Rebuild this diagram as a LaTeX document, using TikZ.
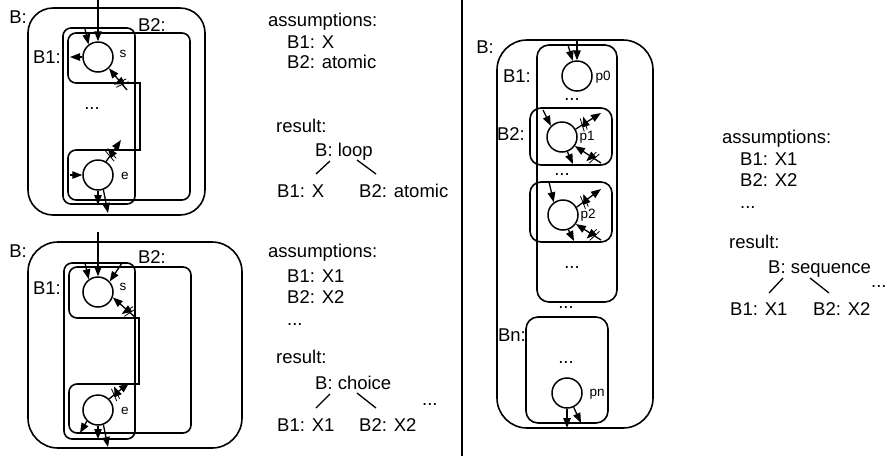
\documentclass[tikz,border=0pt]{standalone}
\usepackage{fontspec}
\setmainfont{Liberation Sans}
\usetikzlibrary{arrows.meta,decorations.markings}
\begin{document}
\begin{tikzpicture}[x=1pt,y=-1pt,
  boxline/.style={draw, line width=1.6pt},
  box/.style={boxline, rounded corners=8pt},
  place/.style={circle, draw, line width=1.5pt, minimum size=30pt, inner sep=0pt},
  arr/.style={-{Triangle[length=10pt,width=7.5pt]}, line width=1.3pt},
  strike/.style={postaction={decorate}, decoration={markings, mark=at position 0.3 with {\draw[line width=0.8pt] (-3pt,-6.5pt) -- (0.5pt,6.5pt) (0.5pt,-6.5pt) -- (4pt,6.5pt);}}},
  txt/.style={anchor=base west, inner sep=0pt, font=\fontsize{18.5}{22}\selectfont},
  lbl/.style={inner sep=0pt, font=\fontsize{18.5}{22}\selectfont},
  small/.style={inner sep=0pt, font=\fontsize{13.5}{15}\selectfont},
  tree/.style={line width=1.3pt}
]
\useasboundingbox (0,0) rectangle (888,456);

% separator
\coordinate (sepT) at (462,0);
\coordinate (sepB) at (462,456);
\draw[line width=1.2pt] (sepT) -- (sepB);

% ================= top-left: loop =================
\draw[boxline, rounded corners=25pt] (28,8) rectangle (205,215);
\draw[box] (63,28) rectangle (135,204);
\draw[box] (140,83) -- (68,83) -- (68,33) -- (190,33) -- (190,200) -- (68,200) -- (68,150) -- (140,150);
\draw[boxline, line cap=rect] (140,150) -- (140,83);
\node[lbl] (tlB) at (18,17) {B:};
\node[lbl] (tlB1) at (47,57) {B1:};
\node[lbl] (tlB2) at (152,25) {B2:};
\node[lbl] (tldots) at (92,109) {...};
\node[place] (s1) at (98,57) {};
\node[place] (e1) at (98,175) {};
\node[small] (s1l) at (123,54) {s};
\node[small] (e1l) at (125,176) {e};
\coordinate (a1) at (98,0);
\coordinate (a2) at (85,29);
\coordinate (a3) at (70,57);
\coordinate (a4) at (127,90);
\coordinate (a5) at (70,175);
\coordinate (a6) at (121,140);
\coordinate (a7) at (98,205);
\coordinate (a8) at (108,213);
\draw[arr] (a1) -- (s1.north);
\draw[arr] (a2) -- (s1.127);
\draw[arr] (s1.west) -- (a3);
\draw[arr,strike] (a4) -- (s1.-46);
\draw[arr] (a5) -- (e1.west);
\draw[arr,strike] (e1.59) -- (a6);
\draw[arr] (e1.south) -- (a7);
\draw[arr] (e1.-70) -- (a8);

% ================= bottom-left: choice =================
\draw[boxline, rounded corners=30pt] (28,242) rectangle (242,448);
\draw[box] (64,263) rectangle (135,439);
\draw[box] (139,318) -- (69,318) -- (69,267) -- (191,267) -- (191,433) -- (69,433) -- (69,384) -- (139,384);
\draw[boxline, line cap=rect] (139,384) -- (139,318);
\node[lbl] (blB) at (18,251) {B:};
\node[lbl] (blB1) at (47,288) {B1:};
\node[lbl] (blB2) at (152,257) {B2:};
\node[place] (s2) at (98,292) {};
\node[place] (e2) at (98,410) {};
\node[small] (s2l) at (123,287) {s};
\node[small] (e2l) at (125,411) {e};
\coordinate (b1) at (98,232);
\coordinate (b2) at (85,263);
\coordinate (b3) at (122,263);
\coordinate (b4) at (136,318);
\coordinate (b5) at (129,383);
\coordinate (b6) at (80,433);
\coordinate (b7) at (98,439);
\coordinate (b8) at (108,447);
\draw[arr] (b1) -- (s2.north);
\draw[arr] (b2) -- (s2.126);
\draw[arr] (b3) -- (s2.42);
\draw[arr,strike] (b4) -- (s2.-20);
\draw[arr,strike] (e2.45) -- (b5);
\draw[arr] (e2.-135) -- (b6);
\draw[arr] (e2.south) -- (b7);
\draw[arr] (e2.-70) -- (b8);

% ================= middle texts =================
\node[txt] (t1a) at (268,26) {assumptions:};
\node[txt] (t1b) at (287,48) {B1: X};
\node[txt] (t1c) at (287,68) {B2: atomic};
\node[txt] (t1d) at (276,132) {result:};
\node[txt] (t1e) at (315,156) {B: loop};
\node[txt] (t1f) at (277,197) {B1: X};
\node[txt] (t1g) at (359,197) {B2: atomic};
\coordinate (t1l1a) at (330,161); \coordinate (t1l1b) at (316,174);
\coordinate (t1l2a) at (357,160); \coordinate (t1l2b) at (376,174);
\draw[tree] (t1l1a) -- (t1l1b);
\draw[tree] (t1l2a) -- (t1l2b);

\node[txt] (t2a) at (268,257) {assumptions:};
\node[txt] (t2b) at (287,282) {B1: X1};
\node[txt] (t2c) at (287,303) {B2: X2};
\node[txt] (t2d) at (287,325) {...};
\node[txt] (t2e) at (276,363) {result:};
\node[txt] (t2f) at (315,389) {B: choice};
\node[txt] (t2g) at (277,431) {B1: X1};
\node[txt] (t2h) at (359,431) {B2: X2};
\node[txt] (t2i) at (422,405) {...};
\coordinate (t2l1a) at (330,394); \coordinate (t2l1b) at (316,408);
\coordinate (t2l2a) at (357,393); \coordinate (t2l2b) at (376,408);
\draw[tree] (t2l1a) -- (t2l1b);
\draw[tree] (t2l2a) -- (t2l2b);

% ================= right: sequence =================
\draw[boxline, rounded corners=30pt] (497,40) rectangle (653,428);
\draw[boxline, rounded corners=12pt] (537,45) rectangle (617,302);
\draw[boxline, rounded corners=11pt] (530,108) rectangle (612,165);
\draw[boxline, rounded corners=11pt] (530,182) rectangle (612,242);
\draw[boxline, rounded corners=12pt] (526,317) rectangle (608,423);
\node[lbl] (rB) at (485,47) {B:};
\node[lbl] (rB1) at (517,76) {B1:};
\node[lbl] (rB2) at (511,134) {B2:};
\node[lbl] (rBn) at (512,335) {Bn:};
\node[lbl] (rd1) at (572,100) {...};
\node[lbl] (rd2) at (562,175) {...};
\node[lbl] (rd3) at (572,268) {...};
\node[lbl] (rd4) at (566,308) {...};
\node[lbl] (rd5) at (566,363) {...};
\node[place] (p0) at (577,76) {};
\node[place] (p1) at (562,137) {};
\node[place] (p2) at (563,215) {};
\node[place] (pn) at (567,393) {};
\node[small] (p0l) at (603,77) {p0};
\node[small] (p1l) at (587,137) {p1};
\node[small] (p2l) at (588,215) {p2};
\node[small] (pnl) at (597,394) {pn};
\coordinate (c1) at (577,40);
\coordinate (c2) at (568,45);
\coordinate (c3) at (543,110);
\coordinate (c4) at (601,113);
\coordinate (c5) at (601,163);
\coordinate (c6) at (573,164);
\coordinate (c7) at (549,182);
\coordinate (c8) at (601,189);
\coordinate (c9) at (601,240);
\coordinate (c10) at (574,241);
\coordinate (c11) at (567,428);
\coordinate (c12) at (581,423);
\draw[arr] (c1) -- (p0.north);
\draw[arr] (c2) -- (p0.106);
\draw[arr] (c3) -- (p1.135);
\draw[arr,strike] (p1.30) -- (c4);
\draw[arr,strike] (c5) -- (p1.-35);
\draw[arr] (p1.-70) -- (c6);
\draw[arr] (c7) -- (p2.126);
\draw[arr,strike] (p2.30) -- (c8);
\draw[arr,strike] (c9) -- (p2.-35);
\draw[arr] (p2.-70) -- (c10);
\draw[arr] (pn.south) -- (c11);
\draw[arr] (pn.-65) -- (c12);

% right texts
\node[txt] (t3a) at (722,143) {assumptions:};
\node[txt] (t3b) at (740,165) {B1: X1};
\node[txt] (t3c) at (740,186) {B2: X2};
\node[txt] (t3d) at (740,208) {...};
\node[txt] (t3e) at (729,248) {result:};
\node[txt] (t3f) at (768,273) {B: sequence};
\node[txt] (t3g) at (730,315) {B1: X1};
\node[txt] (t3h) at (813,315) {B2: X2};
\node[txt] (t3i) at (871,287) {...};
\coordinate (t3l1a) at (783,278); \coordinate (t3l1b) at (769,293);
\coordinate (t3l2a) at (810,278); \coordinate (t3l2b) at (829,293);
\draw[tree] (t3l1a) -- (t3l1b);
\draw[tree] (t3l2a) -- (t3l2b);
\end{tikzpicture}
\end{document}
